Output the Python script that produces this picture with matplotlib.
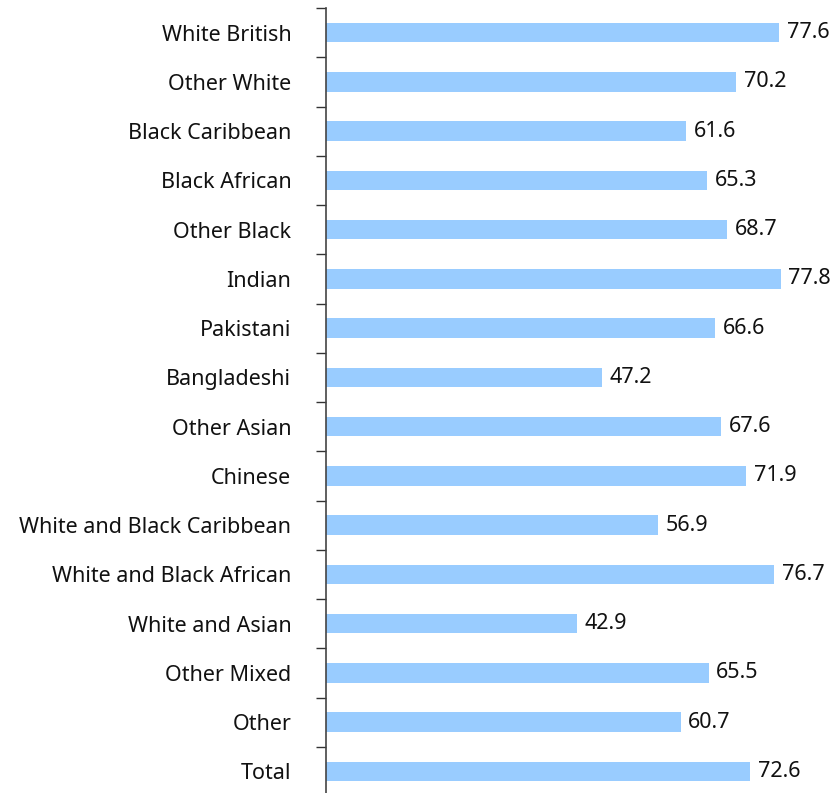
import matplotlib.pyplot as plt
import numpy as np

plt.rcParams['font.family'] = ['Noto Sans', 'DejaVu Sans']

groups = ['White British', 'Other White', 'Black Caribbean', 'Black African',
          'Other Black', 'Indian', 'Pakistani', 'Bangladeshi', 'Other Asian',
          'Chinese', 'White and Black Caribbean', 'White and Black African',
          'White and Asian', 'Other Mixed', 'Other', 'Total']
rates = [77.6, 70.2, 61.6, 65.3, 68.7, 77.8, 66.6, 47.2, 67.6,
         71.9, 56.9, 76.7, 42.9, 65.5, 60.7, 72.6]

fig = plt.figure(figsize=(8.36, 7.93), dpi=100)
ax = fig.add_axes([326 / 836, -3 / 793, 510 / 836, 788 / 793])

pos = np.arange(len(groups))
ax.barh(pos, rates, height=0.4, color='#99ccff', zorder=2)

for p, v in zip(pos, rates):
    ax.text(v + 1.3, p, f'{v:.1f}', va='center', ha='left', fontsize=15.5, color='#111111')

ax.set_ylim(len(groups) - 0.5, -0.5)
ax.set_xlim(0, 87.3)

ax.set_yticks(pos)
ax.set_yticklabels(groups, fontsize=15.5, color='#111111')
ax.set_yticks(np.arange(len(groups) + 1) - 0.5, minor=True)
ax.tick_params(axis='y', which='major', length=0, pad=25)
ax.tick_params(axis='y', which='minor', length=7, width=1, color='#333333')
ax.set_xticks([])

for side in ['top', 'right', 'bottom']:
    ax.spines[side].set_visible(False)
ax.spines['left'].set_color('#444444')
ax.spines['left'].set_linewidth(1.2)

fig.savefig('out.png', dpi=100)
